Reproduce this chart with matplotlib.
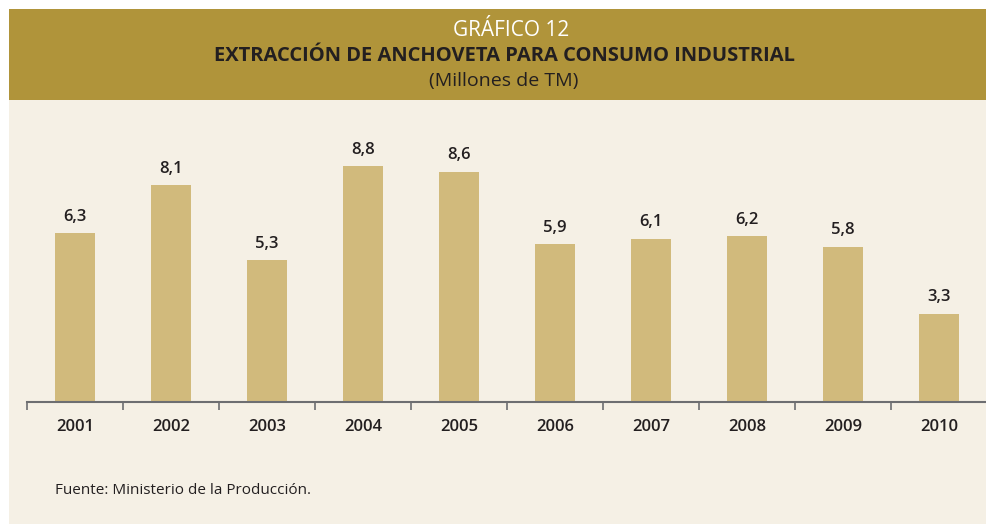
import matplotlib.pyplot as plt
from matplotlib.patches import Rectangle

years = ['2001', '2002', '2003', '2004', '2005', '2006', '2007', '2008', '2009', '2010']
values = [6.3, 8.1, 5.3, 8.8, 8.6, 5.9, 6.1, 6.2, 5.8, 3.3]
labels = ['6,3', '8,1', '5,3', '8,8', '8,6', '5,9', '6,1', '6,2', '5,8', '3,3']

header_col = '#B0943A'
bg_col = '#F5F0E5'
bar_col = '#D1BA7C'
text_col = '#231F20'

W, H = 986, 525
fig = plt.figure(figsize=(W / 100, H / 100), dpi=100)
fig.patch.set_facecolor('white')

# background panels (figure pixel coords -> fractions)
def fx(x):
    return x / W

def fy(y):
    return 1 - y / H

fig.patches.append(Rectangle((fx(9), fy(100)), fx(977), 91 / H, transform=fig.transFigure,
                             facecolor=header_col, edgecolor='none', zorder=-10))
fig.patches.append(Rectangle((fx(9), fy(524)), fx(977), 424 / H, transform=fig.transFigure,
                             facecolor=bg_col, edgecolor='none', zorder=-10))

font = ['Open Sans', 'DejaVu Sans']
fig.text(fx(511), fy(30), 'GRÁFICO 12', ha='center', va='center', color='white',
         fontsize=15, family=font)
fig.text(fx(505), fy(56), 'EXTRACCIÓN DE ANCHOVETA PARA CONSUMO INDUSTRIAL', ha='center',
         va='center', color=text_col, fontsize=14.5, fontweight='bold', family=font)
fig.text(fx(504), fy(81), '(Millones de TM)', ha='center', va='center', color=text_col,
         fontsize=14, family=font)

# axes: baseline at y=402, x from 27 to 987
ax = fig.add_axes([fx(27), fy(402), 960 / W, 300 / H])
ax.set_zorder(5)
ax.set_facecolor('none')
x = range(len(years))
ax.bar(x, values, width=0.41, color=bar_col, zorder=2)
for i, v in enumerate(values):
    ax.annotate(labels[i], (i, v), xytext=(0, 6), textcoords='offset points',
                ha='center', va='bottom', fontsize=12, fontweight='semibold',
                color=text_col, family=font)

ax.set_xlim(-0.5, len(years) - 0.5)
ax.set_ylim(0, 300 / 26.8)
for s in ['top', 'right', 'left']:
    ax.spines[s].set_visible(False)
ax.spines['bottom'].set_color('#6D6E71')
ax.spines['bottom'].set_linewidth(1.5)
ax.set_yticks([])
ax.set_xticks([i - 0.5 for i in range(len(years) + 1)], minor=False)
ax.set_xticklabels([])
ax.tick_params(axis='x', which='major', length=6, width=1.2, color='#6D6E71', direction='out')
ax.set_xticks(list(x), minor=True)
ax.set_xticklabels(years, minor=True, fontsize=12, fontweight='semibold',
                   color=text_col, family=font)
ax.tick_params(axis='x', which='minor', length=0, pad=12)

fig.text(fx(55), fy(490), 'Fuente: Ministerio de la Producción.', ha='left', va='center',
         color=text_col, fontsize=11, family=font)

fig.savefig('out.png', dpi=100, facecolor=fig.get_facecolor())
